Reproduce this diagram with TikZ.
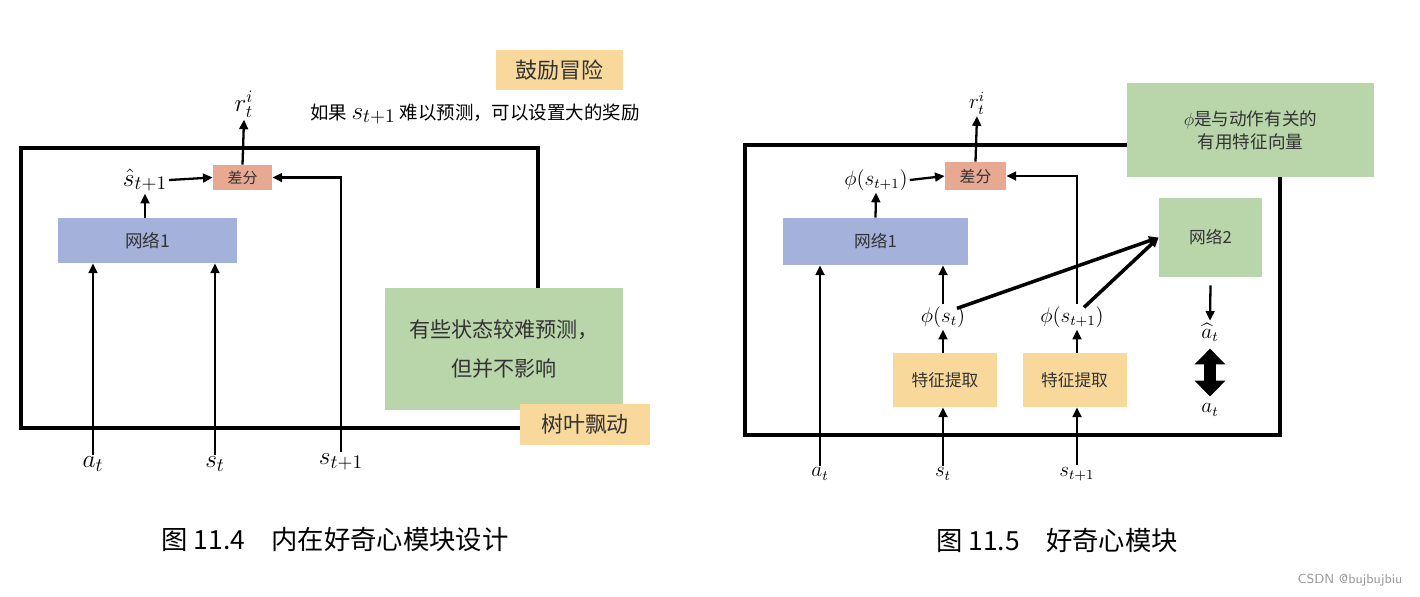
\documentclass[tikz,border=0pt]{standalone}
\usepackage{fontspec}
\usepackage{amsmath}
\usepackage{xcolor}
\usetikzlibrary{arrows.meta,positioning,calc}
\newfontfamily\cjk{Noto Sans CJK SC}
\definecolor{advyellow}{HTML}{F8D99B}
\definecolor{diffred}{HTML}{E8A993}
\definecolor{netblue}{HTML}{A3B1DB}
\definecolor{notegreen}{HTML}{B9D5AA}
\definecolor{boxtext}{HTML}{333333}
\definecolor{markgray}{HTML}{999999}

\begin{document}
\begin{tikzpicture}[x=0.02cm,y=-0.02cm,
  box/.style={inner sep=0pt,text=boxtext},
  cjkten/.style={font=\cjk\fontsize{10}{12}\selectfont},
  bigl/.style={inner sep=1pt,font=\fontsize{15}{18}\selectfont},
  smalll/.style={inner sep=1pt,font=\fontsize{12}{14}\selectfont},
  arr/.style={-{Triangle[length=5.5pt,width=5pt]},line width=1.3pt},
  frame/.style={line width=2.4pt}]
\useasboundingbox (0,0) rectangle (1420,596);

% --- fig 11.4 ---
\draw[frame] (21,148) rectangle (538,428);
\node[box,fill=advyellow,minimum width=2.54cm,minimum height=0.8cm,
  font=\cjk\fontsize{12.5}{14}\selectfont] (advbox) at (559.5,70) {鼓励冒险};
\node[inner sep=1pt,font=\cjk\fontsize{10.5}{12}\selectfont] (hint) at (475,114)
  {如果 {\fontsize{15}{16}\selectfont$s_{t+1}$} 难以预测，可以设置大的奖励};
\node[smalll,font=\fontsize{14}{16}\selectfont] (rt1) at (244,104) {$r_t^i$};
\node[box,fill=diffred,minimum width=1.18cm,minimum height=0.5cm,
  font=\cjk\fontsize{8.5}{10}\selectfont] (diff1) at (242.5,177.5) {差分};
\node[bigl] (shat) at (145,180) {$\hat{s}_{t+1}$};
\node[box,cjkten,fill=netblue,minimum width=3.58cm,minimum height=0.9cm] (neta) at (147.5,240.5) {网络1};
\node[box,fill=notegreen,minimum width=4.76cm,minimum height=2.44cm,align=center,
  font=\cjk\fontsize{12}{22}\selectfont] (hard) at (504,349) {有些状态较难预测，\\但并不影响};
\node[box,fill=advyellow,minimum width=2.6cm,minimum height=0.82cm,
  font=\cjk\fontsize{12.5}{14}\selectfont] (leaf) at (585,424.5) {树叶飘动};
\node[bigl] (at1) at (93,464) {$a_t$};
\node[bigl] (st1) at (215,464) {$s_t$};
\node[bigl] (sn1) at (341,462) {$s_{t+1}$};

\draw[arr] (at1.north) -- (at1.north |- neta.south);
\draw[arr] (st1.north) -- (st1.north |- neta.south);
\draw[arr] (sn1.north) |- (diff1.east);
\draw[arr] (neta.north -| shat) -- (shat.south);
\draw[arr] (shat.east) -- (diff1.west);
\draw[arr] (diff1.north) -- (rt1.south);

% --- fig 11.5 ---
\draw[frame] (745,145) rectangle (1280,435);
\node[box,fill=notegreen,minimum width=4.94cm,minimum height=1.88cm,align=center,
  font=\cjk\fontsize{10}{13}\selectfont] (phinote) at (1250.5,130) {$\phi$是与动作有关的\\有用特征向量};
\node[smalll,font=\fontsize{11.5}{13}\selectfont] (rt2) at (977,103) {$r_t^i$};
\node[box,fill=diffred,minimum width=1.22cm,minimum height=0.56cm,
  font=\cjk\fontsize{9}{10}\selectfont] (diff2) at (975.5,176) {差分};
\node[smalll] (phin) at (876,180) {$\phi(s_{t+1})$};
\node[box,cjkten,fill=netblue,minimum width=3.7cm,minimum height=0.94cm,
  font=\cjk\fontsize{9.5}{12}\selectfont] (netb) at (875.5,241.5) {网络1};
\node[box,fill=notegreen,minimum width=2.06cm,minimum height=1.58cm,
  font=\cjk\fontsize{9.5}{12}\selectfont] (netc) at (1210.5,237.5) {网络2};
\node[smalll] (phis) at (943,317) {$\phi(s_t)$};
\node[smalll] (phisn) at (1072,317) {$\phi(s_{t+1})$};
\node[box,fill=advyellow,minimum width=2.08cm,minimum height=1.08cm,
  font=\cjk\fontsize{9.5}{12}\selectfont] (feata) at (945,380) {特征提取};
\node[box,fill=advyellow,minimum width=2.08cm,minimum height=1.08cm,
  font=\cjk\fontsize{9.5}{12}\selectfont] (featb) at (1074.5,380) {特征提取};
\node[smalll] (at2) at (820,474) {$a_t$};
\node[smalll] (st2) at (943,474) {$s_t$};
\node[smalll] (sn2) at (1077,474) {$s_{t+1}$};
\node[smalll] (ahat) at (1210,332) {$\widehat{a}_t$};
\node[smalll] (at3) at (1210,410) {$a_t$};

\draw[arr] (at2.north) -- (at2.north |- netb.south);
\draw[arr] (st2.north) -- (st2.north |- feata.south);
\draw[arr] (sn2.north) -- (sn2.north |- featb.south);
\draw[arr] (feata.north -| st2) -- (st2 |- phis.south);
\draw[arr] (featb.north -| sn2) -- (sn2 |- phisn.south);
\draw[arr] (phis.north -| st2) -- (st2 |- netb.south);
\draw[arr] (phisn.north -| sn2) |- (diff2.east);
\draw[arr,line width=2pt] ($(phis.north)+(14,4)$) -- (netc.west);
\draw[arr,line width=2pt] ($(phisn.north)+(12,3)$) -- (netc.west);
\draw[arr] (netb.north) -- (phin.south);
\draw[arr] (phin.east) -- (diff2.west);
\draw[arr] (diff2.north) -- (rt2.south);
\draw[arr] ($(netc.south)+(0,8)$) -- (ahat.north);
\draw[{Triangle[length=9pt,width=17pt]}-{Triangle[length=9pt,width=17pt]},line width=7pt,shorten <=3pt,shorten >=3pt]
  (ahat.south) -- (at3.north);

% --- captions ---
\node[font=\cjk\fontsize{15}{18}\selectfont] (capa) at (335,540) {图 11.4\quad 内在好奇心模块设计};
\node[font=\cjk\fontsize{15}{18}\selectfont] (capb) at (1057,540) {图 11.5\quad 好奇心模块};
\node[text=markgray,font=\fontsize{7.5}{9}\selectfont\sffamily] (mark) at (1350,580) {CSDN @bujbujbiu};
\end{tikzpicture}
\end{document}
